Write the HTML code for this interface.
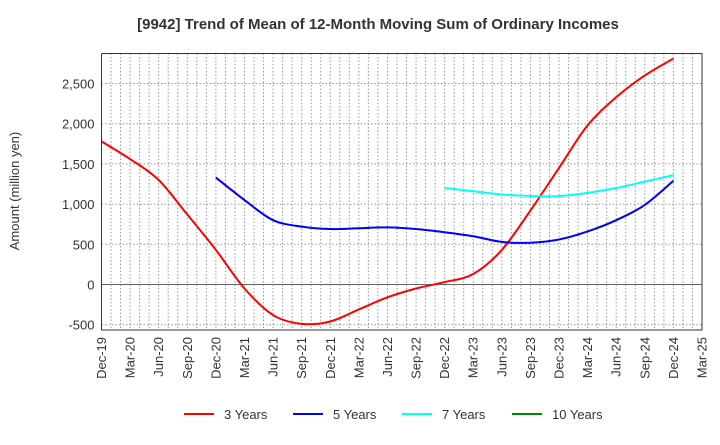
<!DOCTYPE html>
<html><head><meta charset="utf-8"><style>
body{margin:0;background:#fff;font-family:"Liberation Sans",sans-serif;}
</style></head><body>
<svg id="chart" width="720" height="440" xmlns="http://www.w3.org/2000/svg" font-family="Liberation Sans, sans-serif">
<text x="378" y="29" text-anchor="middle" font-size="15" font-weight="bold" fill="#333">[9942]  Trend of Mean of 12-Month Moving Sum of Ordinary Incomes</text>
<text transform="translate(19,191) rotate(-90)" text-anchor="middle" font-size="13" fill="#333">Amount (million yen)</text>
<g id="grid"></g><g id="series"></g><g id="axes"></g>
<g font-size="13" fill="#333">
<line x1="184" y1="414" x2="214" y2="414" stroke="#f00" stroke-width="2"/><text x="224" y="419">3 Years</text>
<line x1="293" y1="414" x2="323" y2="414" stroke="#00f" stroke-width="2"/><text x="333" y="419">5 Years</text>
<line x1="402" y1="414" x2="432" y2="414" stroke="#0ff" stroke-width="2"/><text x="442" y="419">7 Years</text>
<line x1="512" y1="414" x2="542" y2="414" stroke="#080" stroke-width="2"/><text x="552" y="419">10 Years</text>
</g>
</svg>
<script>
const xLabels=["Dec-19","Mar-20","Jun-20","Sep-20","Dec-20","Mar-21","Jun-21","Sep-21","Dec-21","Mar-22","Jun-22","Sep-22","Dec-22","Mar-23","Jun-23","Sep-23","Dec-23","Mar-24","Jun-24","Sep-24","Dec-24","Mar-25"];
const yTicks=[-500,0,500,1000,1500,2000,2500];
const y3=[1780,1560,1300,870,430,-50,-380,-490,-460,-310,-160,-50,30,130,430,920,1450,1980,2330,2600,2810];
const y5=[1330,1050,800,720,690,700,710,690,650,600,530,520,560,660,800,990,1290];
const y7=[1200,1160,1120,1100,1100,1140,1200,1280,1360];
const y5Start=4, y7Start=12;
const L=101.5,R=702,T=53.5,B=330;
const X=i=>L+(R-L)*i/(xLabels.length-1);
const Y=v=>284.5-(v)*0.0804;
const NS="http://www.w3.org/2000/svg";
function mk(tag,attrs,parent){const e=document.createElementNS(NS,tag);for(const k in attrs)e.setAttribute(k,attrs[k]);parent.appendChild(e);return e;}
const grid=document.getElementById('grid'),axes=document.getElementById('axes'),ser=document.getElementById('series');
for(let m=1;m<(xLabels.length-1)*3;m++){const x=L+(R-L)*m/((xLabels.length-1)*3);
const g=mk('line',{x1:x,x2:x,y1:T,y2:B,stroke:'#999','stroke-dasharray':'1.5,2','stroke-width':1},grid);

}
yTicks.forEach(v=>{const y=Y(v);
const g=mk('line',{x1:L,x2:R,y1:y,y2:y,stroke:v===0?'#666':'#999','stroke-dasharray':v===0?'none':'1.5,2','stroke-width':1},grid);


const t=mk('text',{x:L-7,y:y+5,'text-anchor':'end','font-size':13,fill:'#333'},axes);t.textContent=v.toLocaleString('en-US');

});
xLabels.forEach((s,i)=>{const x=X(i);
const t=mk('text',{transform:`translate(${x+4.5},${B+7}) rotate(-90)`,'text-anchor':'end','font-size':13,fill:'#333'},axes);t.textContent=s;

});
const fr=mk('path',{d:`M${L},${T}V${B}H${R}V${T}H${L}`,fill:'none',stroke:'#333','stroke-width':1},axes);


function path(vals,start,color,name){const p=vals.map((v,i)=>[X(start+i),Y(v)]);let d=`M${p[0][0]},${p[0][1]}`;
for(let i=0;i<p.length-1;i++){const p0=p[i-1]||p[i],p1=p[i],p2=p[i+1],p3=p[i+2]||p2;
d+=` C${p1[0]+(p2[0]-p0[0])/6},${p1[1]+(p2[1]-p0[1])/6} ${p2[0]-(p3[0]-p1[0])/6},${p2[1]-(p3[1]-p1[1])/6} ${p2[0]},${p2[1]}`;}
const e=mk('path',{d,fill:'none',stroke:color,'stroke-width':2},ser);

}
path(y3,0,'#f00','line-3-years');path(y5,y5Start,'#00f','line-5-years');path(y7,y7Start,'#0ff','line-7-years');
</script>
</body></html>
